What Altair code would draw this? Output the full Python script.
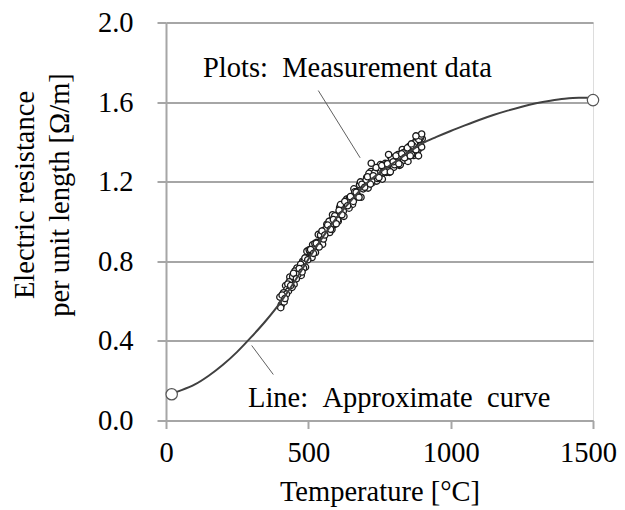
import altair as alt
import pandas as pd

FONT = "Liberation Serif"
FS = 28.5
GRID = "#a6a6a6"
NB = "\u00a0"

# Approximate curve
curve_t = [20, 50, 100, 150, 200, 250, 300, 350, 400, 450, 500, 550, 600, 650, 700,
           750, 800, 850, 900, 950, 1000, 1050, 1100, 1150, 1200, 1250, 1300, 1350,
           1400, 1450, 1500]
curve_r = [0.135, 0.15, 0.18, 0.225, 0.28, 0.345, 0.42, 0.50, 0.59, 0.695, 0.81, 0.92,
           1.02, 1.105, 1.185, 1.245, 1.295, 1.345, 1.392, 1.425, 1.455, 1.483, 1.51,
           1.535, 1.557, 1.577, 1.594, 1.607, 1.617, 1.622, 1.622]

# End markers of the curve
ends_t = [20, 1500]
ends_r = [0.132, 1.61]

meas_t = [400, 405, 410, 415, 420, 425, 430, 435, 440, 445, 450, 455, 460, 465, 470,
          475, 480, 485, 490, 495, 500, 505, 510, 515, 520, 525, 530, 535, 540, 545,
          550, 555, 560, 565, 570, 575, 580, 585, 590, 595, 600, 605, 610, 615, 620,
          625, 630, 635, 640, 645, 650, 655, 660, 665, 670, 675, 680, 685, 690, 695,
          700, 705, 710, 715, 720, 725, 730, 735, 740, 745, 750, 755, 760, 765, 770,
          775, 780, 785, 790, 795, 800, 805, 810, 815, 820, 825, 830, 835, 840, 845,
          850, 855, 860, 865, 870, 875, 880, 885, 890, 895, 900,
          403, 413, 423, 433, 443, 453, 463, 473, 483, 493, 503, 513, 523, 533, 543,
          553, 563, 573, 583, 593, 603, 613, 623, 633, 643, 653, 663, 673, 683, 693,
          703, 713, 723, 733, 743, 753, 763, 773, 783, 793, 803, 813, 823, 833, 843,
          853, 863, 873, 883, 893,
          408, 418, 428, 438, 448, 458, 468, 478, 488, 498, 508, 518, 528, 538, 548,
          558, 568, 578, 588, 598, 608, 618, 628, 638, 648, 658, 668, 678, 688, 698,
          708, 718, 728, 738, 748, 758, 768, 778, 788, 798, 808, 818, 828, 838, 848,
          858, 868, 878, 888, 898,
          896, 898, 887, 878, 862, 721, 782]
meas_r = [0.620, 0.582, 0.635, 0.596, 0.678, 0.659, 0.650, 0.721, 0.682, 0.723, 0.684,
          0.735, 0.766, 0.727, 0.758, 0.729, 0.800, 0.800, 0.771, 0.851, 0.812, 0.852,
          0.823, 0.883, 0.864, 0.844, 0.895, 0.935, 0.886, 0.926, 0.886, 0.956, 0.946,
          0.986, 0.956, 0.945, 1.005, 1.034, 0.984, 1.013, 1.032, 1.001, 1.070, 1.039,
          1.078, 1.026, 1.085, 1.113, 1.072, 1.120, 1.108, 1.086, 1.164, 1.122, 1.150,
          1.127, 1.185, 1.122, 1.190, 1.177, 1.175, 1.221, 1.168, 1.214, 1.251, 1.196,
          1.242, 1.217, 1.203, 1.268, 1.243, 1.268, 1.213, 1.267, 1.292, 1.247, 1.282,
          1.247, 1.322, 1.287, 1.272, 1.317, 1.292, 1.337, 1.282, 1.327, 1.362, 1.307,
          1.332, 1.357, 1.302, 1.377, 1.342, 1.377, 1.332, 1.377, 1.412, 1.358, 1.414,
          1.380, 1.416,
          0.567, 0.642, 0.635, 0.697, 0.669, 0.751, 0.733, 0.785, 0.766, 0.817, 0.858,
          0.819, 0.890, 0.881, 0.932, 0.912, 0.962, 1.001, 0.960, 1.029, 1.007, 1.085,
          1.053, 1.100, 1.067, 1.123, 1.149, 1.125, 1.199, 1.164, 1.209, 1.242, 1.204,
          1.245, 1.216, 1.286, 1.245, 1.285, 1.255, 1.315, 1.285, 1.325, 1.285, 1.345,
          1.325, 1.375, 1.335, 1.395, 1.366, 1.418,
          0.630, 0.613, 0.686, 0.678, 0.740, 0.712, 0.764, 0.746, 0.817, 0.808, 0.859,
          0.840, 0.891, 0.872, 0.952, 0.932, 0.982, 0.961, 1.010, 0.989, 1.056, 1.034,
          1.101, 1.079, 1.125, 1.101, 1.147, 1.122, 1.187, 1.172, 1.225, 1.188, 1.230,
          1.271, 1.221, 1.281, 1.250, 1.290, 1.250, 1.300, 1.330, 1.290, 1.340, 1.320,
          1.370, 1.330, 1.380, 1.360, 1.412, 1.374,
          1.430, 1.440, 1.330, 1.430, 1.390, 1.293, 1.337]

# Annotation texts and leader lines
labels_text = ["Plots:" + NB + NB + "Measurement data",
               "Line:" + NB + NB + "Approximate" + NB + NB + "curve"]
labels_t = [130, 288]
labels_r = [1.724, 0.067]
leader_t1 = [535, 301]
leader_r1 = [1.658, 0.377]
leader_t2 = [682, 377]
leader_r2 = [1.320, 0.231]

curve_df = pd.DataFrame({"t": curve_t, "r": curve_r})
ends_df = pd.DataFrame({"t": ends_t, "r": ends_r})
meas_df = pd.DataFrame({"t": meas_t, "r": meas_r})
lab_df = pd.DataFrame({"t": labels_t, "r": labels_r, "txt": labels_text})
lead_df = pd.DataFrame({"t1": leader_t1, "r1": leader_r1, "t2": leader_t2, "r2": leader_r2})

xscale = alt.Scale(domain=[0, 1500], nice=False)
yscale = alt.Scale(domain=[0, 2.0], nice=False)

xaxis = alt.Axis(
    values=[0, 500, 1000, 1500], format="d", grid=False, title="Temperature [°C]",
    labelFont=FONT, labelFontSize=FS, labelColor="black", labelPadding=10,
    labelFlush=False,
    labelOffset={"condition": {"test": "datum.value == 1500", "value": -5}, "value": 0},
    titleFont=FONT, titleFontSize=FS, titleColor="black", titleFontWeight="normal",
    titleBaseline="alphabetic", titleY=80,
    domainColor=GRID, domainWidth=2, tickColor=GRID, tickWidth=2, tickSize=8,
)
yaxis = alt.Axis(
    values=[0, 0.4, 0.8, 1.2, 1.6, 2.0], format=".1f", grid=True,
    gridColor=GRID, gridWidth=2,
    title=["Electric resistance", "per unit length [Ω/m]"],
    labelFont=FONT, labelFontSize=FS, labelColor="black", labelPadding=24,
    labelFlush=False,
    titleFont=FONT, titleFontSize=FS, titleColor="black", titleFontWeight="normal",
    titleAngle=270, titleAlign="center", titleBaseline="alphabetic",
    titleX=-133, titleY=172, titleLineHeight=35,
    domainColor=GRID, domainWidth=2, tickColor=GRID, tickWidth=2, tickSize=9,
)

base_x = alt.X("t:Q", scale=xscale, axis=xaxis)
base_y = alt.Y("r:Q", scale=yscale, axis=yaxis)

points = alt.Chart(meas_df).mark_point(
    shape="circle", filled=True, fill="white", stroke="#1a1a1a", strokeWidth=1.3, size=40, opacity=1
).encode(x=base_x, y=base_y)

line = alt.Chart(curve_df).mark_line(
    color="#404040", strokeWidth=2, interpolate="monotone"
).encode(x=alt.X("t:Q", scale=xscale), y=alt.Y("r:Q", scale=yscale))

ends = alt.Chart(ends_df).mark_point(
    shape="circle", filled=True, fill="white", stroke="#555555", strokeWidth=1.2, size=130, opacity=1
).encode(x=alt.X("t:Q", scale=xscale), y=alt.Y("r:Q", scale=yscale))

leaders = alt.Chart(lead_df).mark_rule(color="#606060", strokeWidth=1).encode(
    x=alt.X("t1:Q", scale=xscale), y=alt.Y("r1:Q", scale=yscale),
    x2="t2:Q", y2="r2:Q",
)

texts = alt.Chart(lab_df).mark_text(
    font=FONT, fontSize=FS, color="black", align="left", baseline="alphabetic"
).encode(x=alt.X("t:Q", scale=xscale), y=alt.Y("r:Q", scale=yscale), text="txt:N")

chart = alt.layer(points, line, ends, leaders, texts).properties(
    width=427, height=398,
    autosize=alt.AutoSizeParams(type="none"),
    padding={"left": 158, "top": 14.5, "right": 24, "bottom": 86},
).configure_view(stroke=GRID, strokeWidth=2).configure(background="white")

chart.save("out.html", embed_options={"renderer": "svg", "actions": False})
